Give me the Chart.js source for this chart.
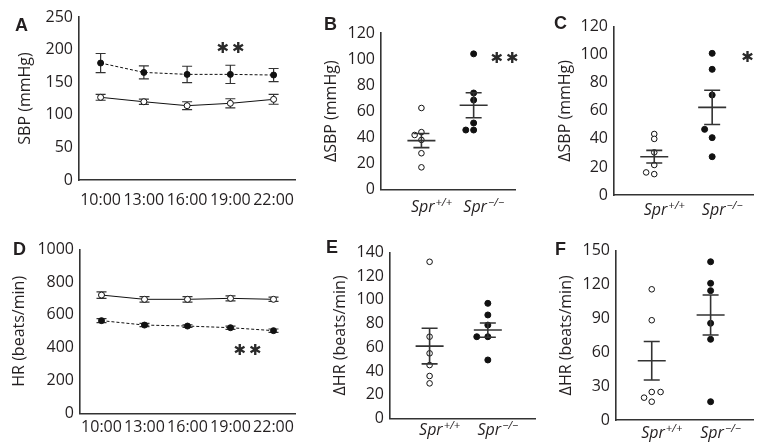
<!DOCTYPE html>
<html lang="en">
<head>
    <meta charset="UTF-8" />
    <title>Spr blood pressure and heart rate</title>
    <style>
        body {
            margin: 0;
            background: #fff;
        }
        #page {
            position: relative;
            width: 758px;
            height: 445px;
            overflow: hidden;
            color: #231f20;
        }
        canvas {
            position: absolute;
        }
        .tag {
            position: absolute;
            font: bold 18px "Liberation Sans", Arial, sans-serif;
            line-height: 1;
        }
        .sig {
            position: absolute;
            font: 15px "DejaVu Sans", sans-serif;
            line-height: 1;
            letter-spacing: 3px;
            color: #2a2a2a;
            transform: translate(-50%, -50%);
        }
    </style>
    <script src="https://cdn.jsdelivr.net/npm/chart.js"></script>
</head>
<body>
<div id="page">
    <canvas id="chartA"></canvas>
    <canvas id="chartB"></canvas>
    <canvas id="chartC"></canvas>
    <canvas id="chartD"></canvas>
    <canvas id="chartE"></canvas>
    <canvas id="chartF"></canvas>

    <div class="tag" style="left:15px;top:15.7px">A</div>
    <div class="tag" style="left:324px;top:14.7px">B</div>
    <div class="tag" style="left:554px;top:13.7px">C</div>
    <div class="tag" style="left:13px;top:239.7px">D</div>
    <div class="tag" style="left:326px;top:237.7px">E</div>
    <div class="tag" style="left:555px;top:239.7px">F</div>

    <div class="sig" style="left:232px;top:48px">✱✱</div>
    <div class="sig" style="left:506px;top:58px">✱✱</div>
    <div class="sig" style="left:749px;top:57px">✱</div>
    <div class="sig" style="left:249px;top:350px">✱✱</div>
</div>

<script>
  const times = ["10:00", "13:00", "16:00", "19:00", "22:00"];
  const genotypes = [["Spr", "+/+"], ["Spr", "\u2212/\u2212"]];

  // A: systolic pressure through the day, mean ± SEM (mmHg)
  const sbpWt = [126.8, 120, 114, 117.6, 123.7];
  const sbpWtErr = [4.5, 4, 6, 7, 7.5];
  const sbpKo = [179.4, 165, 162, 162, 161];
  const sbpKoErr = [14.6, 10, 12.5, 14, 10];

  // D: heart rate through the day (beats/min)
  const hrWt = [721, 695, 695, 701, 695];
  const hrWtErr = [20, 17, 17, 15, 13];
  const hrKo = [565, 538, 532, 522, 504];
  const hrKoErr = [12, 10, 8, 10, 10];

  // B: delta SBP, individual mice
  const bWt = [62.5, 44, 41.8, 38, 27.8, 17];
  const bKo = [104, 74, 68.6, 51, 45.6, 45.6];
  const bMean = [37.5, 64.6];
  const bSem = [5.4, 9.6];

  // C: delta SBP
  const cWt = [43.5, 40, 30.4, 21.4, 16.1, 14.9];
  const cKo = [101, 89.6, 71.3, 46.8, 40.9, 27.3];
  const cMean = [27.3, 62.5];
  const cSem = [4.5, 12.2];

  // E: delta HR
  const eWt = [132, 68.9, 54.9, 45, 35.8, 29.6];
  const eKo = [97, 87.2, 78.7, 68.9, 68.9, 49.3];
  const eMean = [61, 74.5];
  const eSem = [15, 6];

  // F: delta HR
  const fWt = [115.8, 88.4, 24.8, 24.8, 19.8, 16.2];
  const fKo = [140.2, 121.1, 114.6, 85.7, 71.5, 16.2];
  const fMean = [52.5, 93];
  const fSem = [17, 17.7];

  // sideways nudges so overlapping dots stay visible (category units)
  const bWtDodge = [0, 0, -0.13, 0, 0, 0];
  const bKoDodge = [0, 0, 0, 0, -0.15, 0];
  const cWtDodge = [0, 0, 0, 0, -0.14, 0];
  const cKoDodge = [0, 0, 0, -0.13, 0, 0];
  const eWtDodge = [0, 0, 0, 0, 0, 0];
  const eKoDodge = [0, 0, 0, -0.19, 0, 0];
  const fWtDodge = [0, 0, 0, 0.15, -0.13, 0];
  const fKoDodge = [0, 0, 0, 0, 0, 0];

  const INK = "#231f20";
  const AXIS = "#333";

  Chart.defaults.font.family = '"Open Sans", sans-serif';
  Chart.defaults.font.size = 16;
  Chart.defaults.color = INK;
  Chart.defaults.animation = false;

  // canvas box and plot area, both in page pixels
  function frame(id, box, plot, titleX) {
    const c = document.getElementById(id);
    c.style.left = box.x + "px";
    c.style.top = box.y + "px";
    c.width = box.w;
    c.height = box.h;
    return {
      canvas: c,
      padding: { left: 0, top: plot.t - box.y, right: box.x + box.w - plot.r, bottom: 0 },
      yWidth: plot.l - box.x,
      xHeight: box.y + box.h - plot.b,
      titlePad: titleX - box.x - 9.6,
    };
  }

  function yAxis(f, max, step, title) {
    return {
      min: 0,
      max: max,
      ticks: { stepSize: step, padding: 6, callback: (v) => String(v) },
      grid: { display: false, drawTicks: false },
      border: { display: true, color: AXIS, width: 1.6 },
      title: { display: true, text: title, padding: { top: f.titlePad, bottom: 0 } },
      afterFit: (s) => { s.width = f.yWidth; },
    };
  }

  const errorBars = {
    id: "errorBars",
    beforeDatasetsDraw(chart, args, opts) {
      const { ctx } = chart;
      const y = chart.scales.y;
      ctx.save();
      ctx.strokeStyle = AXIS;
      ctx.lineWidth = 1.2;
      chart.data.datasets.forEach((ds, i) => {
        const meta = chart.getDatasetMeta(i);
        opts.errors[i].forEach((e, j) => {
          const px = meta.data[j].x;
          const top = y.getPixelForValue(ds.data[j] + e);
          const bot = y.getPixelForValue(ds.data[j] - e);
          ctx.beginPath();
          ctx.moveTo(px, top); ctx.lineTo(px, bot);
          ctx.moveTo(px - 5, top); ctx.lineTo(px + 5, top);
          ctx.moveTo(px - 5, bot); ctx.lineTo(px + 5, bot);
          ctx.stroke();
        });
      });
      ctx.restore();
    },
  };

  const meanSem = {
    id: "meanSem",
    afterDatasetsDraw(chart, args, opts) {
      const { ctx } = chart;
      const { x, y } = chart.scales;
      ctx.save();
      ctx.strokeStyle = AXIS;
      ctx.lineWidth = 1.6;
      opts.means.forEach((m, i) => {
        const cx = x.getPixelForValue(i + 1);
        const ym = y.getPixelForValue(m);
        const yt = y.getPixelForValue(m + opts.sems[i]);
        const yb = y.getPixelForValue(m - opts.sems[i]);
        ctx.beginPath();
        ctx.moveTo(cx - 14, ym); ctx.lineTo(cx + 14, ym);
        ctx.moveTo(cx, yt); ctx.lineTo(cx, yb);
        ctx.moveTo(cx - 8, yt); ctx.lineTo(cx + 8, yt);
        ctx.moveTo(cx - 8, yb); ctx.lineTo(cx + 8, yb);
        ctx.stroke();
      });
      ctx.restore();
    },
  };

  // italic genotype labels with superscripts under each group
  const genotypeLabels = {
    id: "genotypeLabels",
    afterDraw(chart, args, opts) {
      const { ctx, chartArea } = chart;
      const x = chart.scales.x;
      const big = 'italic 16px "Open Sans"';
      const small = 'italic 11px "Open Sans"';
      ctx.save();
      ctx.fillStyle = INK;
      ctx.textAlign = "left";
      ctx.textBaseline = "alphabetic";
      genotypes.forEach((g, i) => {
        ctx.font = big;
        const w1 = ctx.measureText(g[0]).width;
        ctx.font = small;
        const w2 = ctx.measureText(g[1]).width;
        const cx = x.getPixelForValue(i + 1) + 10;
        const base = chartArea.bottom + opts.gap;
        const sx = cx - (w1 + w2 + 1) / 2;
        ctx.font = big;
        ctx.fillText(g[0], sx, base);
        ctx.font = small;
        ctx.fillText(g[1], sx + w1 + 1, base - 6);
      });
      ctx.restore();
    },
  };

  function timeChart(f, wt, wtErr, ko, koErr, max, step, title, labelPad) {
    new Chart(f.canvas, {
      type: "line",
      data: {
        labels: times,
        datasets: [
          {
            data: wt,
            borderColor: "#111",
            borderWidth: 1,
            pointRadius: 3,
            pointBorderWidth: 1,
            pointBorderColor: "#111",
            pointBackgroundColor: "#fff",
          },
          {
            data: ko,
            borderColor: "#111",
            borderWidth: 1,
            borderDash: [3, 2],
            pointRadius: 3,
            pointBorderWidth: 1,
            pointBorderColor: "#111",
            pointBackgroundColor: "#111",
          },
        ],
      },
      options: {
        responsive: false,
        layout: { padding: f.padding },
        scales: {
          x: {
            type: "category",
            offset: true,
            grid: { display: false, drawTicks: false },
            border: { display: true, color: AXIS, width: 1.6 },
            ticks: { padding: labelPad, maxRotation: 0, autoSkip: false },
            afterFit: (s) => { s.height = f.xHeight; },
          },
          y: yAxis(f, max, step, title),
        },
        plugins: {
          legend: { display: false },
          tooltip: { enabled: false },
          errorBars: { errors: [wtErr, koErr] },
        },
      },
      plugins: [errorBars],
    });
  }

  function dotChart(f, wt, wtDodge, ko, koDodge, means, sems, xmin, xmax, max, step, title, gap) {
    new Chart(f.canvas, {
      type: "scatter",
      data: {
        datasets: [
          {
            data: wt.map((v, i) => ({ x: 1 + wtDodge[i], y: v })),
            pointRadius: 2.8,
            pointBorderWidth: 1,
            pointBorderColor: "#111",
            pointBackgroundColor: "#fff",
          },
          {
            data: ko.map((v, i) => ({ x: 2 + koDodge[i], y: v })),
            pointRadius: 3,
            pointBorderWidth: 1,
            pointBorderColor: "#111",
            pointBackgroundColor: "#111",
          },
        ],
      },
      options: {
        responsive: false,
        layout: { padding: f.padding },
        scales: {
          x: {
            type: "linear",
            min: xmin,
            max: xmax,
            grid: { display: false, drawTicks: false },
            border: { display: true, color: AXIS, width: 1.6 },
            ticks: { display: false },
            afterFit: (s) => { s.height = f.xHeight; },
          },
          y: yAxis(f, max, step, title),
        },
        plugins: {
          legend: { display: false },
          tooltip: { enabled: false },
          meanSem: { means: means, sems: sems },
          genotypeLabels: { gap: gap },
        },
      },
      plugins: [meanSem, genotypeLabels],
    });
  }

  const fA = frame("chartA", { x: 0, y: 0, w: 305, h: 215 }, { l: 79, t: 17, r: 301, b: 180 }, 25);
  const fD = frame("chartD", { x: 0, y: 220, w: 300, h: 225 }, { l: 80, t: 249.3, r: 296, b: 413.3 }, 19);
  const fB = frame("chartB", { x: 305, y: 0, w: 215, h: 218 }, { l: 381, t: 33, r: 517, b: 189.5 }, 331.7);
  const fC = frame("chartC", { x: 520, y: 0, w: 238, h: 220 }, { l: 614, t: 26.7, r: 758, b: 195 }, 565);
  const fE = frame("chartE", { x: 305, y: 220, w: 235, h: 225 }, { l: 390, t: 252.3, r: 537, b: 418.5 }, 340);
  const fF = frame("chartF", { x: 540, y: 220, w: 218, h: 225 }, { l: 616, t: 250.7, r: 758, b: 420 }, 566);

  timeChart(fA, sbpWt, sbpWtErr, sbpKo, sbpKoErr, 250, 50, "SBP (mmHg)", 10.5);
  timeChart(fD, hrWt, hrWtErr, hrKo, hrKoErr, 1000, 200, "HR (beats/min)", 4.6);

  dotChart(fB, bWt, bWtDodge, bKo, bKoDodge, bMean, bSem, 0.226, 2.792, 120, 20, "\u0394SBP (mmHg)", 22.5);
  dotChart(fC, cWt, cWtDodge, cKo, cKoDodge, cMean, cSem, 0.305, 2.705, 120, 20, "\u0394SBP (mmHg)", 20);
  dotChart(fE, eWt, eWtDodge, eKo, eKoDodge, eMean, eSem, 0.32, 2.81, 140, 20, "\u0394HR (beats/min)", 16.5);
  dotChart(fF, fWt, fWtDodge, fKo, fKoDodge, fMean, fSem, 0.393, 2.72, 150, 30, "\u0394HR (beats/min)", 18);
</script>

</body>
</html>
